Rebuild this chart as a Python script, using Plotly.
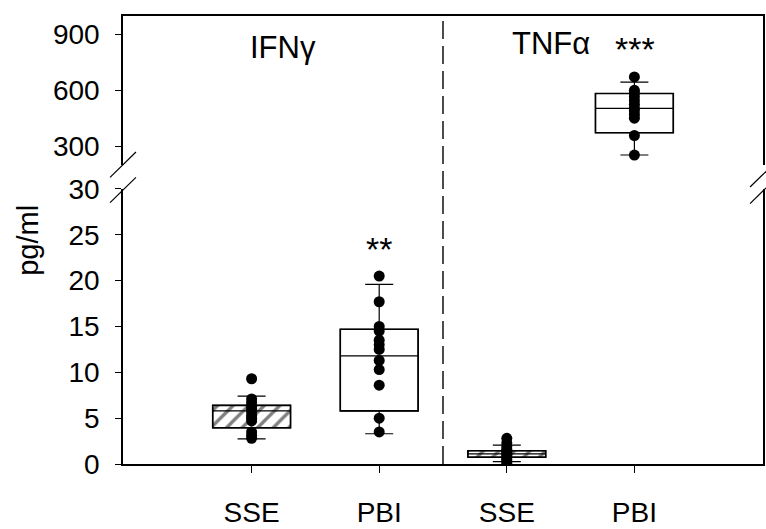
import plotly.graph_objects as go

# ---------------- data ----------------
categories = ["SSE", "PBI", "SSE", "PBI"]
cat_pos = [0, 1, 2, 3]
groups = ["IFNγ", "IFNγ", "TNFα", "TNFα"]

ifn_sse_pts = [9.3, 7.1, 6.7, 6.3, 6.0, 5.7, 5.3, 5.0, 4.7, 3.5, 3.1, 2.8]
ifn_pbi_pts = [20.5, 17.7, 15.0, 14.5, 13.5, 13.0, 12.5, 11.3, 10.3, 8.6, 5.0, 3.5]
tnf_sse_pts = [2.8, 2.3, 1.9, 1.6, 1.4, 1.2, 1.1, 0.9, 0.7, 0.5, 0.3, 0.1]
tnf_pbi_pts = [672, 600, 585, 565, 545, 525, 505, 490, 470, 450, 357, 252]

# box statistics (10th / 25th / 50th / 75th / 90th percentiles)
q1 = [3.95, 5.8, 0.74, 372]
median = [5.8, 11.8, 1.1, 503]
q3 = [6.4, 14.7, 1.45, 583]
lowerfence = [2.75, 3.3, 0.25, 252]
upperfence = [7.4, 19.6, 2.05, 644]
hatched = [True, False, True, False]

lower_ticks = [0, 5, 10, 15, 20, 25, 30]
upper_ticks = [300, 600, 900]
lower_range = [0, 30]
upper_range = [200, 1000]

# ---------------- layout geometry ----------------
W, H = 766, 529
L, R, T, B = 123, 1, 12, 56
PW = W - L - R
PH = H - T - B
y_bottom_px = H - B


def px(x, y):
    return (x - L) / PW, (y_bottom_px - y) / PH


lower_dom = [0, (y_bottom_px - 190) / PH]
upper_dom = [(y_bottom_px - 165) / PH, 1]

FONT = "Liberation Sans, Arial, sans-serif"
TICK_SIZE = 28
BOX_W = 0.61

fig = go.Figure()

lower_idx = [0, 1, 2]
upper_idx = [3]

# box bodies (bars) with hatching
for idxs, xa, ya in [(lower_idx, "x", "y"), (upper_idx, "x2", "y2")]:
    fig.add_trace(go.Bar(
        x=[cat_pos[i] for i in idxs],
        base=[q1[i] for i in idxs],
        y=[q3[i] - q1[i] for i in idxs],
        width=BOX_W,
        marker=dict(
            color="white",
            line=dict(color="black", width=1.6),
            pattern=dict(
                shape=["/" if hatched[i] else "" for i in idxs],
                fgcolor="black", bgcolor="white", size=11, solidity=0.3,
            ),
        ),
        xaxis=xa, yaxis=ya, showlegend=False, hoverinfo="skip",
    ))

# whiskers / median via box traces with precomputed stats
for idxs, xa, ya in [(lower_idx, "x", "y"), (upper_idx, "x2", "y2")]:
    fig.add_trace(go.Box(
        x=[cat_pos[i] for i in idxs],
        q1=[q1[i] for i in idxs],
        median=[median[i] for i in idxs],
        q3=[q3[i] for i in idxs],
        lowerfence=[lowerfence[i] for i in idxs],
        upperfence=[upperfence[i] for i in idxs],
        width=BOX_W,
        whiskerwidth=0.36,
        boxpoints=False,
        fillcolor="rgba(0,0,0,0)",
        line=dict(color="black", width=1.2),
        xaxis=xa, yaxis=ya, showlegend=False, hoverinfo="skip",
    ))

# data points
for pos, pts, xa, ya in [
    (cat_pos[0], ifn_sse_pts, "x", "y"),
    (cat_pos[1], ifn_pbi_pts, "x", "y"),
    (cat_pos[2], tnf_sse_pts, "x", "y"),
    (cat_pos[3], tnf_pbi_pts, "x2", "y2"),
]:
    fig.add_trace(go.Scatter(
        x=[pos] * len(pts), y=pts, mode="markers",
        marker=dict(color="black", size=11),
        xaxis=xa, yaxis=ya, showlegend=False, hoverinfo="skip",
    ))

axis_common = dict(showgrid=False, zeroline=False, linecolor="black",
                   linewidth=1.5, tickcolor="black")

fig.update_layout(
    width=W, height=H,
    margin=dict(l=L, r=R, t=T, b=B),
    paper_bgcolor="white", plot_bgcolor="white",
    barmode="overlay", boxmode="overlay",
    font=dict(family=FONT, color="black"),
    xaxis=dict(**axis_common, range=[-1.008, 4.008], anchor="y",
               showline=True, ticks="outside", ticklen=7, tickwidth=1.3,
               tickvals=cat_pos, ticktext=categories,
               tickfont=dict(size=TICK_SIZE, family=FONT), ticklabelstandoff=16),
    xaxis2=dict(**axis_common, range=[-1.008, 4.008], anchor="y2",
                matches="x", side="top", showline=True, ticks="",
                showticklabels=False),
    yaxis=dict(**axis_common, domain=lower_dom, range=lower_range,
               showline=True, mirror=True, ticks="outside", ticklen=6,
               tickwidth=1.3, tickvals=lower_ticks,
               tickfont=dict(size=TICK_SIZE, family=FONT), ticklabelstandoff=10),
    yaxis2=dict(**axis_common, domain=upper_dom, range=upper_range,
                anchor="x2", showline=True, mirror=True, ticks="outside",
                ticklen=6, tickwidth=1.3, tickvals=upper_ticks,
                tickfont=dict(size=TICK_SIZE, family=FONT), ticklabelstandoff=10),
)

# dashed separator between cytokines
fig.add_shape(type="line", xref="x", yref="paper", x0=1.5, x1=1.5, y0=0, y1=1,
              line=dict(color="black", width=1.4, dash="18px,7px"))

# axis break marks
breaks = [((110, 178), (136, 152)), ((110, 204), (136, 178)),
          ((752, 188), (778, 162)), ((752, 205), (778, 179))]
for (xa_, ya_), (xb_, yb_) in breaks:
    x0, y0 = px(xa_, ya_)
    x1, y1 = px(xb_, yb_)
    fig.add_shape(type="line", xref="paper", yref="paper",
                  x0=x0, y0=y0, x1=x1, y1=y1,
                  line=dict(color="black", width=1.2))

# texts
def add_text(text, xpx, ypx, size):
    x, y = px(xpx, ypx)
    fig.add_annotation(text=text, xref="paper", yref="paper", x=x, y=y,
                       xanchor="center", yanchor="middle", showarrow=False,
                       font=dict(size=size, family=FONT, color="black"))

add_text("IFNγ", 283, 44, 31)
add_text("TNFα", 552, 40, 31)
add_text("**", 380, 252, 34)
add_text("***", 637, 46, 34)

# y-axis title
x, y = px(28, 243)
fig.add_annotation(text="pg/ml", xref="paper", yref="paper", x=x, y=y,
                   xanchor="center", yanchor="middle", textangle=-90,
                   showarrow=False, font=dict(size=29, family=FONT))

fig.write_html("out.html")
